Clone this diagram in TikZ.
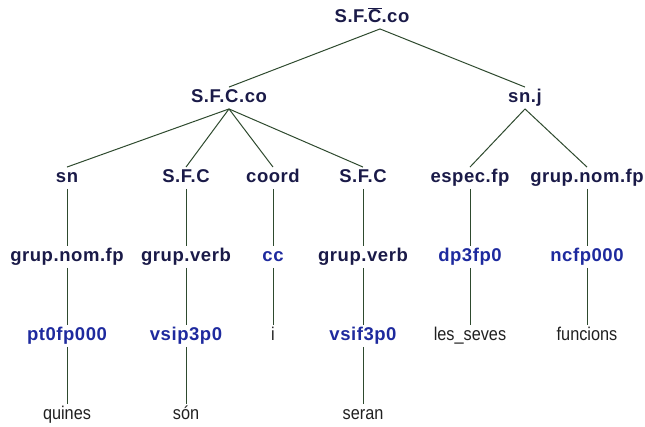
\documentclass[tikz,border=0pt]{standalone}
\usepackage{fontspec}
\setmainfont{Liberation Sans}
\newfontfamily\leaffont[FakeStretch=0.88]{Liberation Sans}
\newfontfamily\catfont[LetterSpace=3]{Liberation Sans Bold}
\definecolor{lnc}{HTML}{2E4A2E}
\definecolor{catc}{HTML}{1A1A48}
\definecolor{tagc}{HTML}{1E2A9E}
\definecolor{wrdc}{HTML}{202020}
\begin{document}
\begin{tikzpicture}[x=1pt,y=-1pt,
  cat/.style={font=\catfont\fontsize{18.5}{20}\selectfont, text=catc, inner sep=2pt, text height=13.5pt, text depth=4pt},
  tag/.style={font=\catfont\fontsize{18.5}{20}\selectfont, text=tagc, inner sep=2pt, text height=13.5pt, text depth=4pt},
  wrd/.style={font=\leaffont\fontsize{18.5}{20}\selectfont, text=wrdc, inner sep=2pt, text height=13.5pt, text depth=4pt},
  edge/.style={draw=lnc, line width=1pt}]
\useasboundingbox (0,0) rectangle (645,427);
% level 1
\node[cat] (root) at (372,18) {S.F.$\overline{\hbox{C}}$.co};
% level 2
\node[cat] (sfcco) at (229,98) {S.F.C.co};
\node[cat] (snj) at (525,98) {sn.j};
% level 3
\node[cat] (sn) at (67,178) {sn};
\node[cat] (sfc1) at (186,178) {S.F.C};
\node[cat] (coord) at (273,178) {coord};
\node[cat] (sfc2) at (363,178) {S.F.C};
\node[cat] (espec) at (470,178) {espec.fp};
\node[cat] (gnom2) at (587,178) {grup.nom.fp};
% level 4
\node[cat] (gnom1) at (67,257) {grup.nom.fp};
\node[cat] (gverb1) at (186,257) {grup.verb};
\node[tag] (cc) at (273,257) {cc};
\node[cat] (gverb2) at (363,257) {grup.verb};
\node[tag] (dp) at (470,257) {dp3fp0};
\node[tag] (ncfp) at (587,257) {ncfp000};
% level 5
\node[tag] (pt) at (67,336) {pt0fp000};
\node[tag] (vsip) at (186,336) {vsip3p0};
\node[wrd] (i) at (273,336) {i};
\node[tag] (vsif) at (363,336) {vsif3p0};
\node[wrd] (seves) at (470,336) {les\_seves};
\node[wrd] (func) at (587,336) {funcions};
% level 6
\node[wrd] (quines) at (67,415) {quines};
\node[wrd] (son) at (186,415) {són};
\node[wrd] (seran) at (363,415) {seran};
% edges
\coordinate (rootapex) at ([xshift=8pt]root.south);
\draw[edge] (rootapex) -- (sfcco.north);
\draw[edge] (rootapex) -- (snj.north);
\draw[edge] (sfcco.south) -- (sn.north);
\draw[edge] (sfcco.south) -- (sfc1.north);
\draw[edge] (sfcco.south) -- (coord.north);
\draw[edge] (sfcco.south) -- (sfc2.north);
\draw[edge] (snj.south) -- (espec.north);
\draw[edge] (snj.south) -- (gnom2.north);
\draw[edge] (sn.south) -- (gnom1.north);
\draw[edge] (sfc1.south) -- (gverb1.north);
\draw[edge] (coord.south) -- (cc.north);
\draw[edge] (sfc2.south) -- (gverb2.north);
\draw[edge] (espec.south) -- (dp.north);
\draw[edge] (gnom2.south) -- (ncfp.north);
\draw[edge] (gnom1.south) -- (pt.north);
\draw[edge] (gverb1.south) -- (vsip.north);
\draw[edge] (cc.south) -- (i.north);
\draw[edge] (gverb2.south) -- (vsif.north);
\draw[edge] (dp.south) -- (seves.north);
\draw[edge] (ncfp.south) -- (func.north);
\draw[edge] (pt.south) -- (quines.north);
\draw[edge] (vsip.south) -- (son.north);
\draw[edge] (vsif.south) -- (seran.north);
\end{tikzpicture}
\end{document}
